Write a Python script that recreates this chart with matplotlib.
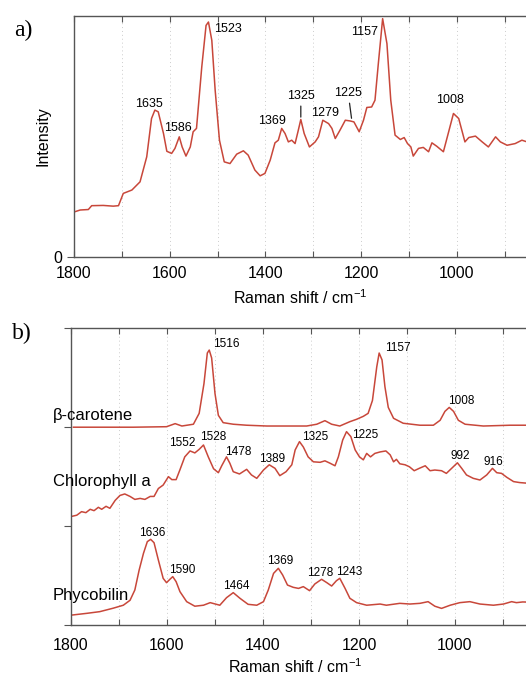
import matplotlib
matplotlib.use("Agg")
import matplotlib.pyplot as plt
from matplotlib.ticker import FixedLocator, MultipleLocator, NullFormatter

plt.rcParams['font.family'] = ['Liberation Sans', 'DejaVu Sans']
plt.rcParams['mathtext.default'] = 'regular'

LINE = '#c8473a'
SPINE = '#555555'

# ---- panel a: sample spectrum ----
a_wn = [1798, 1787, 1770, 1763, 1739, 1718, 1707, 1697, 1679, 1662, 1648, 1638, 1631, 1624,
        1613, 1606, 1596, 1589, 1580, 1574, 1566, 1557, 1551, 1544, 1533, 1524, 1519, 1512,
        1505, 1496, 1486, 1474, 1460, 1446, 1436, 1422, 1411, 1401, 1390, 1380, 1373, 1366,
        1359, 1352, 1345, 1338, 1332, 1326, 1319, 1308, 1296, 1289, 1280, 1268, 1261, 1254,
        1244, 1233, 1223, 1215, 1204, 1195, 1188, 1178, 1171, 1164, 1155, 1146, 1138, 1129,
        1118, 1110, 1103, 1096, 1091, 1080, 1070, 1059, 1052, 1042, 1028, 1017, 1007, 996,
        983, 975, 961, 947, 934, 919, 909, 895, 878, 864, 850, 835]
a_int = [18.7, 19.4, 19.6, 21.2, 21.3, 21.0, 21.2, 26.3, 27.7, 31.1, 41.5, 57.4, 60.9, 60.2,
         51.2, 43.8, 42.9, 45.0, 49.8, 45.6, 41.8, 45.6, 51.9, 53.3, 78.8, 96.1, 97.5, 89.9,
         69.2, 48.4, 39.4, 38.7, 42.6, 44.0, 42.2, 36.0, 33.6, 34.6, 40.1, 47.3, 48.4, 53.3,
         51.2, 47.7, 48.4, 47.0, 51.9, 57.0, 51.2, 45.6, 47.7, 49.8, 56.7, 55.3, 53.3, 49.1,
         52.6, 56.7, 56.4, 56.0, 51.9, 56.7, 62.0, 62.2, 65.0, 80.2, 98.9, 88.5, 65.0, 50.5,
         48.7, 49.5, 47.0, 45.6, 41.8, 45.0, 45.4, 43.6, 47.3, 45.9, 43.6, 51.9, 59.5, 57.4,
         47.7, 49.5, 50.1, 47.7, 45.6, 49.8, 47.7, 46.3, 47.0, 48.4, 47.5, 46.8]

a_labels = ['1635', '1586', '1369', '1279', '1008']
a_label_wn = [1643, 1583, 1386, 1275, 1014]
a_label_y = [63.4, 53.5, 56.4, 59.7, 65.1]
a_lead_labels = ['1325', '1225']
a_lead_text = [(1326, 66.8), (1227, 68.0)]
a_lead_tip = [(1326, 58.0), (1220, 57.5)]

# ---- panel b: reference pigments (stacked) ----
car_wn = [1795, 1670, 1601, 1583, 1569, 1545, 1533, 1523, 1516, 1512, 1507, 1500, 1493, 1483,
          1462, 1434, 1392, 1351, 1309, 1288, 1271, 1257, 1240, 1219, 1205, 1191, 1181, 1172,
          1163, 1158, 1152, 1146, 1139, 1128, 1108, 1073, 1045, 1031, 1021, 1012, 1003, 993,
          979, 941, 885, 859, 830]
car_y = [2.00, 2.00, 2.005, 2.036, 2.012, 2.03, 2.14, 2.44, 2.75, 2.78, 2.70, 2.34, 2.12, 2.046,
         2.03, 2.02, 2.012, 2.012, 2.012, 2.03, 2.066, 2.03, 2.012, 2.056, 2.08, 2.11, 2.14, 2.27,
         2.61, 2.75, 2.68, 2.41, 2.20, 2.09, 2.04, 2.02, 2.02, 2.07, 2.16, 2.20, 2.16, 2.07,
         2.03, 2.012, 2.02, 2.02, 2.02]

chl_wn = [1797, 1788, 1778, 1769, 1760, 1752, 1743, 1736, 1727, 1719, 1708, 1698, 1688, 1677,
          1667, 1656, 1646, 1635, 1627, 1618, 1608, 1597, 1590, 1581, 1573, 1563, 1552, 1542,
          1533, 1524, 1514, 1503, 1493, 1486, 1476, 1469, 1462, 1449, 1434, 1424, 1413, 1399,
          1387, 1375, 1365, 1352, 1340, 1333, 1324, 1316, 1306, 1295, 1281, 1271, 1260, 1250,
          1243, 1234, 1226, 1217, 1208, 1199, 1191, 1184, 1176, 1167, 1156, 1144, 1135, 1128,
          1122, 1115, 1104, 1095, 1085, 1074, 1062, 1052, 1042, 1028, 1018, 1007, 995, 986,
          976, 962, 948, 934, 922, 913, 903, 892, 878, 865, 840]
chl_y = [1.10, 1.11, 1.146, 1.136, 1.17, 1.156, 1.19, 1.17, 1.20, 1.18, 1.26, 1.31, 1.325, 1.30,
         1.27, 1.28, 1.27, 1.30, 1.30, 1.38, 1.415, 1.50, 1.47, 1.47, 1.57, 1.70, 1.76, 1.74,
         1.776, 1.82, 1.70, 1.58, 1.54, 1.61, 1.70, 1.635, 1.55, 1.527, 1.574, 1.517, 1.483, 1.567,
         1.62, 1.584, 1.51, 1.55, 1.62, 1.77, 1.854, 1.80, 1.70, 1.65, 1.645, 1.66, 1.635, 1.61,
         1.70, 1.87, 1.955, 1.905, 1.77, 1.70, 1.67, 1.735, 1.70, 1.735, 1.75, 1.76, 1.72, 1.65,
         1.675, 1.63, 1.62, 1.60, 1.56, 1.585, 1.61, 1.56, 1.567, 1.56, 1.533, 1.584, 1.64, 1.584,
         1.517, 1.483, 1.466, 1.517, 1.584, 1.54, 1.533, 1.493, 1.45, 1.44, 1.43]

phy_wn = [1799, 1767, 1740, 1712, 1691, 1677, 1667, 1658, 1649, 1641, 1634, 1627, 1618, 1608,
          1601, 1594, 1588, 1581, 1573, 1559, 1542, 1524, 1510, 1490, 1476, 1462, 1448, 1431,
          1413, 1399, 1389, 1378, 1368, 1359, 1349, 1337, 1326, 1316, 1303, 1292, 1278, 1267,
          1257, 1247, 1240, 1229, 1219, 1205, 1184, 1156, 1143, 1115, 1094, 1073, 1056, 1042,
          1028, 1010, 990, 969, 948, 920, 899, 882, 872, 859, 835]
phy_y = [0.10, 0.118, 0.135, 0.17, 0.20, 0.25, 0.354, 0.556, 0.725, 0.843, 0.866, 0.832, 0.657, 0.472,
         0.428, 0.462, 0.489, 0.438, 0.337, 0.236, 0.19, 0.20, 0.226, 0.20, 0.276, 0.327, 0.27, 0.209,
         0.20, 0.236, 0.354, 0.522, 0.573, 0.505, 0.404, 0.381, 0.37, 0.388, 0.347, 0.415, 0.462, 0.428,
         0.394, 0.448, 0.472, 0.37, 0.27, 0.226, 0.20, 0.212, 0.20, 0.219, 0.212, 0.219, 0.236, 0.19,
         0.168, 0.20, 0.226, 0.236, 0.212, 0.20, 0.212, 0.236, 0.226, 0.233, 0.23]

names = ['β-carotene', 'Chlorophyll a', 'Phycobilin']
name_y = [2.12, 1.446, 0.303]

b_labels = ['1516', '1157', '1008', '1552', '1528', '1478', '1389', '1325', '1225', '992', '916',
            '1636', '1590', '1464', '1369', '1278', '1243']
b_label_wn = [1476, 1119, 988, 1569, 1504, 1452, 1381, 1292, 1188, 990, 921,
              1631, 1569, 1456, 1365, 1281, 1221]
b_label_y = [2.84, 2.80, 2.265, 1.84, 1.90, 1.75, 1.68, 1.90, 1.92, 1.71, 1.65,
             0.93, 0.556, 0.394, 0.647, 0.526, 0.536]

x_labelled = [1800, 1600, 1400, 1200, 1000]


def style_axis(ax, pad):
    ax.set_xlim(1800, 800)
    ax.xaxis.set_major_locator(FixedLocator(x_labelled))
    ax.xaxis.set_minor_locator(MultipleLocator(100))
    ax.xaxis.set_minor_formatter(NullFormatter())
    ax.tick_params(axis='x', which='both', direction='in', top=True, length=4,
                   width=0.8, color=SPINE, labelsize=11.5, pad=pad)
    ax.tick_params(axis='y', which='both', direction='out', length=5, width=0.8,
                   color=SPINE, labelsize=11.5)
    for xv in range(1700, 800, -100):
        ax.axvline(xv, color='#cccccc', lw=0.7, ls=(0, (1, 3)), zorder=0)
    for s in ax.spines.values():
        s.set_color(SPINE)
        s.set_linewidth(1.0)
    ax.spines['right'].set_visible(False)


fig = plt.figure(figsize=(5.26, 6.77), dpi=100)

# panel a
ax1 = fig.add_axes([74 / 526, 1 - 256.7 / 677, 478.5 / 526, 240.7 / 677])
ax1.plot(a_wn, a_int, color=LINE, lw=1.1)
style_axis(ax1, 7)
ax1.set_ylim(0, 100)
ax1.set_yticks([0])
ax1.set_ylabel('Intensity', fontsize=11.5)
ax1.yaxis.set_label_coords(-0.05, 0.5)
ax1.set_xlabel('Raman shift / cm$^{-1}$', fontsize=11.5)
ax1.xaxis.set_label_coords(0.472, -0.13)
for t, w, y in zip(a_labels, a_label_wn, a_label_y):
    ax1.text(w, y, t, fontsize=9, ha='center', va='center')
ax1.text(1507, 94.6, '1523', fontsize=9, ha='left', va='center')
ax1.text(1165, 93.4, '1157', fontsize=9, ha='right', va='center')
for t, xt, tip in zip(a_lead_labels, a_lead_text, a_lead_tip):
    ax1.annotate(t, xy=tip, xytext=xt, fontsize=9, ha='center', va='center',
                 arrowprops=dict(arrowstyle='-', lw=0.9, color='#222222',
                                 shrinkA=1, shrinkB=0))
fig.text(14 / 526, 1 - 30 / 677, 'a)', fontsize=17, family='Liberation Serif',
         va='center', ha='left')

# panel b
ax2 = fig.add_axes([71 / 526, 1 - 625 / 677, 480 / 526, 296.7 / 677])
for wn, yy in [(car_wn, car_y), (chl_wn, chl_y), (phy_wn, phy_y)]:
    ax2.plot(wn, yy, color=LINE, lw=1.1)
style_axis(ax2, 9)
ax2.set_ylim(0, 3)
ax2.set_yticks([0, 1, 2, 3])
ax2.set_yticklabels([])
ax2.set_xlabel('Raman shift / cm$^{-1}$', fontsize=11.5)
ax2.xaxis.set_label_coords(0.467, -0.11)
for nm, y in zip(names, name_y):
    ax2.text(1837.5, y, nm, fontsize=12, ha='left', va='center', clip_on=False)
for t, w, y in zip(b_labels, b_label_wn, b_label_y):
    ax2.text(w, y, t, fontsize=8.5, ha='center', va='center')
fig.text(12 / 526, 1 - 333 / 677, 'b)', fontsize=17, family='Liberation Serif',
         va='center', ha='left')

fig.savefig('out.png', dpi=100)
